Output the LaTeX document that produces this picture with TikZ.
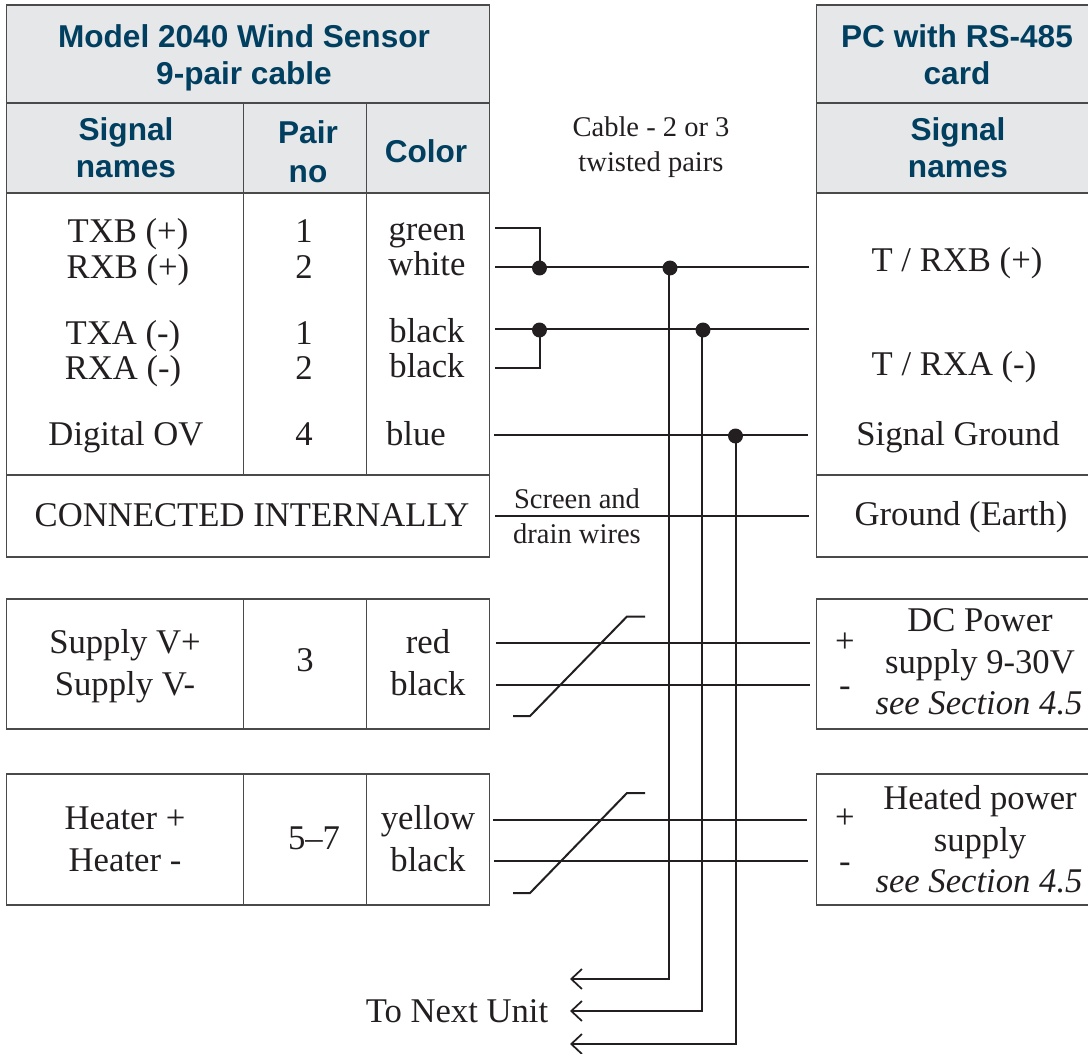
\documentclass[tikz,border=0pt]{standalone}
\usepackage{fontspec}
\setmainfont{Liberation Serif}
\newfontfamily\headfont{Liberation Sans}
\usetikzlibrary{arrows.meta}
\definecolor{ink}{HTML}{231F20}
\definecolor{navy}{HTML}{003F5F}
\definecolor{headfill}{HTML}{E6E7E8}
\definecolor{edge}{HTML}{4A4A4A}
\tikzset{
  cellbox/.style={draw=edge,line width=1pt},
  headbox/.style={cellbox,fill=headfill},
  head/.style={anchor=base,inner sep=0pt,text=navy,font=\headfont\bfseries\fontsize{23.7}{28}\selectfont},
  body/.style={anchor=base,inner sep=0pt,text=ink,font=\fontsize{26}{30}\selectfont},
  bodyit/.style={body,font=\itshape\fontsize{26}{30}\selectfont},
  small/.style={anchor=base,inner sep=0pt,text=ink,font=\fontsize{21.4}{25}\selectfont},
  wire/.style={draw=ink,line width=1.5pt},
  dot/.style={circle,fill=ink,inner sep=0pt,minimum size=11.2pt},
  tip/.style={wire,-{Straight Barb[length=8pt,width=15pt,line width=1.3pt]}}
}
\begin{document}
\begin{tikzpicture}[x=0.75pt,y=-0.75pt]
\useasboundingbox (0,0) rectangle (1088,1053);
\clip (0,0) rectangle (1088,1053);
% left table
\draw[headbox] (6.5,5) rectangle (489.5,103);
\draw[headbox] (6.5,103) rectangle (489.5,193);
\draw[cellbox] (243.5,103) -- (243.5,193) (366.5,103) -- (366.5,193);
\draw[cellbox] (6.5,193) rectangle (489.5,475);
\draw[cellbox] (243.5,193) -- (243.5,475) (366.5,193) -- (366.5,475);
\draw[cellbox] (6.5,475) rectangle (489.5,557);
\draw[cellbox] (6.5,599) rectangle (489.5,729);
\draw[cellbox] (243.5,599) -- (243.5,729) (366.5,599) -- (366.5,729);
\draw[cellbox] (6.5,774) rectangle (489.5,905);
\draw[cellbox] (243.5,774) -- (243.5,905) (366.5,774) -- (366.5,905);
% right table
\draw[headbox] (816.5,5) rectangle (1096,103);
\draw[headbox] (816.5,103) rectangle (1096,193);
\draw[cellbox] (816.5,193) rectangle (1096,475);
\draw[cellbox] (816.5,475) rectangle (1096,557);
\draw[cellbox] (816.5,599) rectangle (1096,729);
\draw[cellbox] (816.5,774) rectangle (1096,905);
% headers
\node[head] (h1) at (244,47) {Model 2040 Wind Sensor};
\node[head] (h2) at (244,84) {9-pair cable};
\node[head] (h3) at (126,140) {Signal};
\node[head] (h4) at (126,177) {names};
\node[head] (h5) at (308,143) {Pair};
\node[head] (h6) at (308,182) {no};
\node[head] (h7) at (426,162) {Color};
\node[head] (h8) at (957,47) {PC with RS-485};
\node[head] (h9) at (957,84) {card};
\node[head] (h10) at (958,140) {Signal};
\node[head] (h11) at (958,177) {names};
% left body
\node[body] (s1) at (128,242) {TXB (+)};
\node[body] (s2) at (128,278) {RXB (+)};
\node[body] (s3) at (123,344) {TXA (-)};
\node[body] (s4) at (123,379) {RXA (-)};
\node[body] (s5) at (126,445) {Digital OV};
\node[body] (p1) at (304,242) {1};
\node[body] (p2) at (304,278) {2};
\node[body] (p3) at (304,344) {1};
\node[body] (p4) at (304,379) {2};
\node[body] (p5) at (304,445) {4};
\node[body] (c1) at (427,240) {green};
\node[body] (c2) at (427,275) {white};
\node[body] (c3) at (427,342) {black};
\node[body] (c4) at (427,377) {black};
\node[body] (c5) at (416,445) {blue};
\node[body] (ci) at (252,526) {CONNECTED INTERNALLY};
\node[body] (v1) at (125,653) {Supply V+};
\node[body] (v2) at (125,695) {Supply V-};
\node[body] (v3) at (305,671) {3};
\node[body] (v4) at (428,653) {red};
\node[body] (v5) at (428,695) {black};
\node[body] (t1) at (125,829) {Heater +};
\node[body] (t2) at (125,871) {Heater -};
\node[body] (t3) at (314,849) {5–7};
\node[body] (t4) at (428,829) {yellow};
\node[body] (t5) at (428,871) {black};
% right body
\node[body] (r1) at (957,271) {T / RXB (+)};
\node[body] (r2) at (954,375) {T / RXA (-)};
\node[body] (r3) at (958,445) {Signal Ground};
\node[body] (r4) at (961,525) {Ground (Earth)};
\node[body] (r5) at (980,631) {DC Power};
\node[body] (r6) at (980,673) {supply 9-30V};
\node[bodyit] (r7) at (979,714) {see Section 4.5};
\node[body] (r8) at (845,652) {+};
\node[body] (r9) at (845,696) {-};
\node[body] (r10) at (980,809) {Heated power};
\node[body] (r11) at (980,851) {supply};
\node[bodyit] (r12) at (979,892) {see Section 4.5};
\node[body] (r13) at (845,828) {+};
\node[body] (r14) at (845,872) {-};
% labels
\node[small] (l1) at (651,136) {Cable - 2 or 3};
\node[small] (l2) at (651,171) {twisted pairs};
\node[small] (l3) at (577,508) {Screen and};
\node[small] (l4) at (577,543) {drain wires};
\node[body] (l5) at (457,1022) {To Next Unit};
% wire ends
\coordinate (a1) at (495,228); \coordinate (a2) at (539.5,228);
\coordinate (b1) at (495,267); \coordinate (b2) at (809,267);
\coordinate (c6) at (495,329); \coordinate (c7) at (809,329);
\coordinate (d1) at (495,367.5); \coordinate (d2) at (539.5,367.5);
\coordinate (e1) at (494,434.5); \coordinate (e2) at (808,434.5);
\coordinate (f1) at (495,516); \coordinate (f2) at (809,516);
\coordinate (g1) at (496,642.5); \coordinate (g2) at (810,642.5);
\coordinate (g3) at (496,684.5); \coordinate (g4) at (810,684.5);
\coordinate (i1) at (493,820); \coordinate (i2) at (807,820);
\coordinate (i3) at (494,860.5); \coordinate (i4) at (808,860.5);
\coordinate (k1) at (513,716); \coordinate (k2) at (530,716);
\coordinate (k3) at (627,616.5); \coordinate (k4) at (645,616.5);
\coordinate (m1) at (513,893); \coordinate (m2) at (530,893);
\coordinate (m3) at (627,793); \coordinate (m4) at (645,793);
\coordinate (n1) at (570,979); \coordinate (n2) at (570,1011); \coordinate (n3) at (570,1044);
% junctions
\node[dot] (j1) at (539.5,268) {};
\node[dot] (j2) at (670,268) {};
\node[dot] (j3) at (539.5,330) {};
\node[dot] (j4) at (703,330) {};
\node[dot] (j5) at (735.5,436) {};
% wires
\draw[wire] (a1) -- (a2) -- (j1.center);
\draw[wire] (b1) -- (b2);
\draw[wire] (c6) -- (c7);
\draw[wire] (d1) -- (d2) -- (j3.center);
\draw[wire] (e1) -- (e2);
\draw[wire] (f1) -- (f2);
\draw[wire] (g1) -- (g2);
\draw[wire] (g3) -- (g4);
\draw[wire] (i1) -- (i2);
\draw[wire] (i3) -- (i4);
\draw[wire] (k1) -- (k2) -- (k3) -- (k4);
\draw[wire] (m1) -- (m2) -- (m3) -- (m4);
\draw[tip] (j2.center) ++(-1,0) |- (n1);
\draw[tip] (j4.center) ++(-1,0) |- (n2);
\draw[tip] (j5.center) |- (n3);
\end{tikzpicture}
\end{document}
